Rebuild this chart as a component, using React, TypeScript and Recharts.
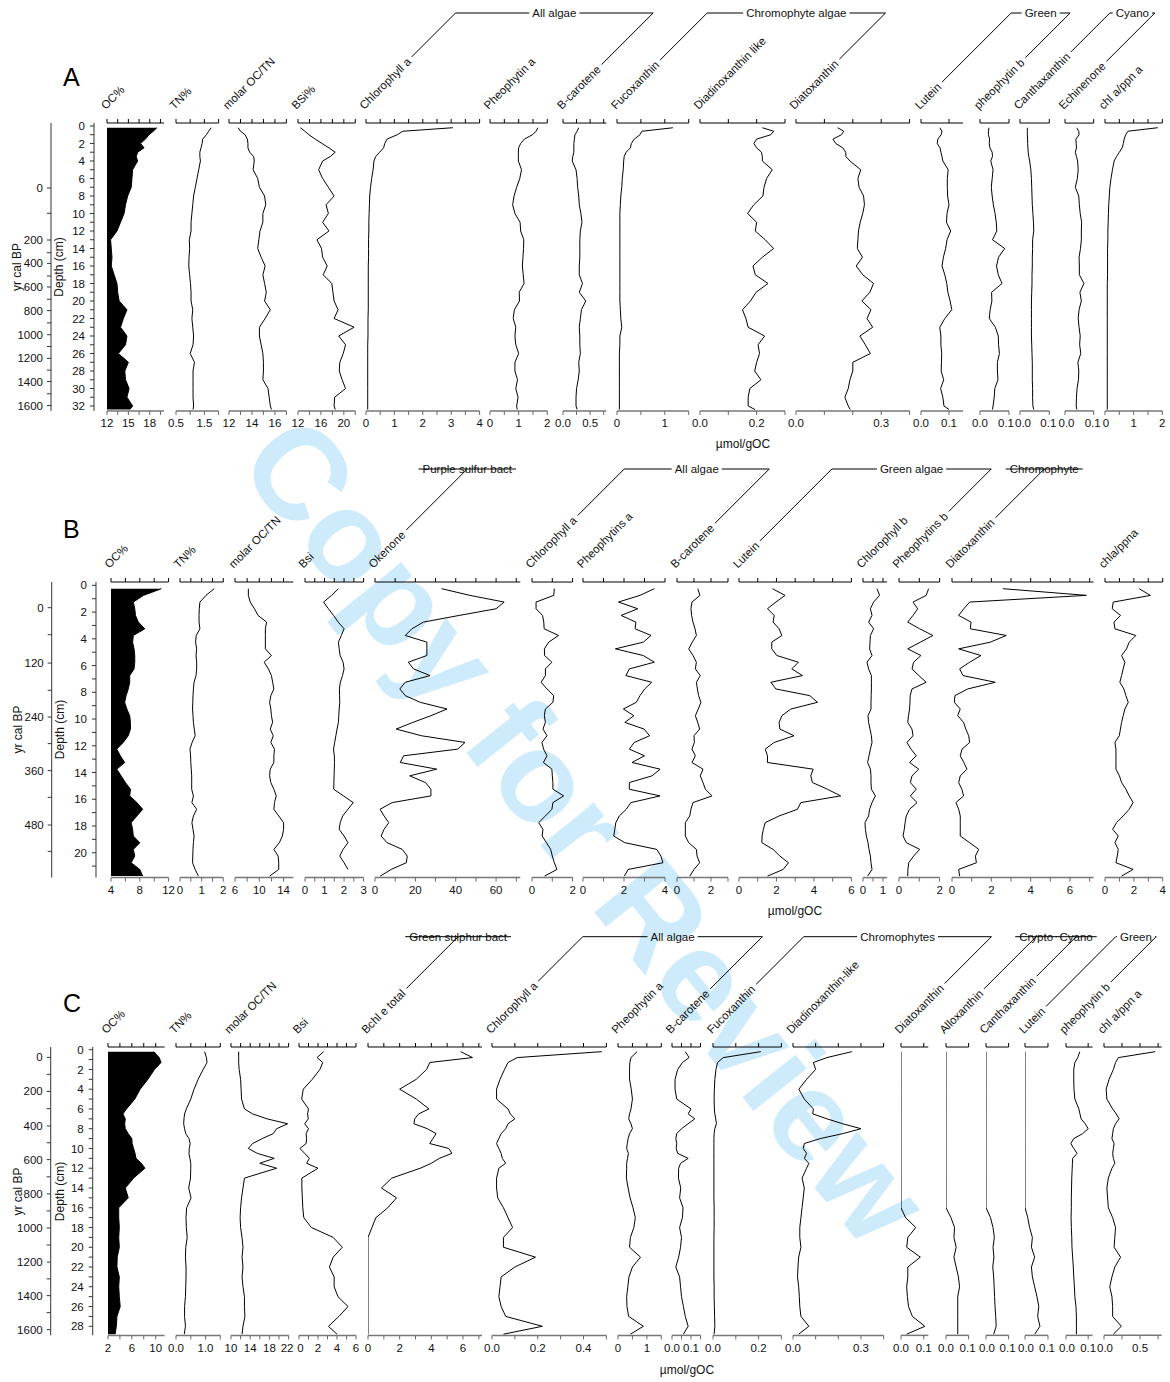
import React from 'react';
import { ComposedChart, Line, Area, XAxis, YAxis } from 'recharts';

const FONT = '"Liberation Sans", Arial, Helvetica, sans-serif';
const FS = 11.5;

// ---------------- Panel A ----------------
const depthA = [0.2, 0.6, 1, 1.5, 2, 2.5, 3, 3.5, 4, 5, 6, 7, 8, 9, 10, 11, 12, 13, 14, 15, 16, 17, 18, 19, 20, 21, 22, 23, 24, 25, 26, 27, 28, 29, 30, 31, 32, 32.4];
const ocA = [19.0, 18.5, 17.9, 17.4, 16.7, 17.2, 16.3, 16.1, 16.3, 15.6, 15.5, 15.4, 14.9, 14.6, 14.4, 13.9, 13.4, 12.5, 12.6, 12.7, 12.6, 13.0, 13.4, 13.5, 13.7, 14.8, 14.3, 13.9, 14.8, 14.6, 13.6, 15.0, 14.5, 14.6, 15.1, 14.8, 15.6, 15.2];
const tnA = [1.74, 1.65, 1.57, 1.44, 1.42, 1.38, 1.34, 1.34, 1.36, 1.30, 1.24, 1.18, 1.12, 1.09, 1.06, 1.03, 1.03, 0.97, 0.98, 0.96, 0.95, 0.98, 1.01, 1.03, 1.03, 1.09, 1.06, 1.09, 1.12, 1.10, 1.00, 1.15, 1.10, 1.10, 1.10, 1.10, 1.12, 1.10];
const molA = [12.8, 13.0, 13.4, 13.6, 13.65, 13.65, 13.8, 14.15, 14.2, 14.1, 14.5, 14.65, 15.1, 15.2, 14.95, 14.95, 14.7, 14.6, 14.5, 14.8, 15.15, 14.95, 15.1, 15.25, 15.1, 15.6, 15.15, 14.65, 14.65, 14.8, 14.95, 15.0, 15.0, 14.95, 15.4, 15.5, 15.6, 15.7];
const bsiA = [12.4, 13.2, 13.9, 15.0, 16.2, 17.4, 18.5, 17.6, 16.3, 15.6, 16.3, 17.3, 18.3, 16.9, 17.3, 16.3, 17.4, 15.3, 16.1, 16.3, 17.1, 16.4, 17.9, 18.1, 18.3, 19.0, 18.3, 21.8, 19.1, 20.3, 19.9, 19.3, 19.2, 19.7, 20.3, 18.4, 18.3, 18.5];
const chlaA = [3.06, 1.3, 1.1, 0.74, 0.66, 0.62, 0.48, 0.34, 0.28, 0.25, 0.2, 0.16, 0.13, 0.12, 0.11, 0.1, 0.1, 0.09, 0.09, 0.09, 0.08, 0.08, 0.08, 0.08, 0.08, 0.08, 0.07, 0.07, 0.07, 0.06, 0.06, 0.06, 0.06, 0.06, 0.06, 0.06, 0.06, 0.06];
const pheoA = [1.67, 1.61, 1.48, 1.2, 1.07, 1.0, 0.99, 0.99, 0.99, 1.1, 1.04, 0.93, 0.84, 0.79, 0.87, 1.05, 1.07, 1.18, 1.17, 1.15, 1.13, 1.16, 1.19, 1.02, 1.03, 0.85, 0.81, 0.9, 0.87, 0.9, 1.0, 0.87, 0.87, 0.96, 0.9, 0.98, 0.93, 0.95];
const bcarA = [0.29, 0.26, 0.22, 0.21, 0.2, 0.2, 0.2, 0.18, 0.17, 0.24, 0.26, 0.27, 0.29, 0.3, 0.33, 0.35, 0.32, 0.31, 0.31, 0.31, 0.3, 0.3, 0.36, 0.3, 0.42, 0.34, 0.32, 0.3, 0.31, 0.31, 0.32, 0.29, 0.3, 0.28, 0.25, 0.24, 0.24, 0.26];
const fucoA = [1.17, 0.52, 0.48, 0.36, 0.3, 0.28, 0.19, 0.15, 0.14, 0.13, 0.11, 0.1, 0.08, 0.07, 0.06, 0.06, 0.06, 0.06, 0.06, 0.06, 0.06, 0.06, 0.06, 0.06, 0.06, 0.07, 0.08, 0.1, 0.06, 0.06, 0.05, 0.05, 0.05, 0.05, 0.05, 0.05, 0.05, 0.05];
const diadA = [0.22, 0.26, 0.25, 0.2, 0.19, 0.2, 0.217, 0.22, 0.22, 0.255, 0.235, 0.226, 0.222, 0.19, 0.168, 0.2, 0.195, 0.23, 0.26, 0.22, 0.187, 0.195, 0.24, 0.198, 0.178, 0.15, 0.162, 0.17, 0.228, 0.205, 0.21, 0.2, 0.193, 0.215, 0.176, 0.17, 0.17, 0.194];
const diatA = [0.147, 0.168, 0.16, 0.13, 0.14, 0.165, 0.175, 0.176, 0.19, 0.228, 0.218, 0.222, 0.238, 0.241, 0.235, 0.226, 0.22, 0.218, 0.216, 0.234, 0.212, 0.235, 0.273, 0.26, 0.232, 0.264, 0.25, 0.27, 0.225, 0.244, 0.262, 0.2, 0.2, 0.19, 0.184, 0.172, 0.184, 0.191];
const lutA = [0.067, 0.075, 0.072, 0.06, 0.058, 0.068, 0.071, 0.075, 0.078, 0.097, 0.094, 0.094, 0.095, 0.1, 0.093, 0.091, 0.106, 0.093, 0.088, 0.08, 0.075, 0.085, 0.092, 0.096, 0.104, 0.11, 0.085, 0.067, 0.071, 0.071, 0.074, 0.073, 0.072, 0.081, 0.07, 0.078, 0.082, 0.1];
const phbA = [0.031, 0.029, 0.029, 0.033, 0.032, 0.034, 0.042, 0.043, 0.037, 0.045, 0.042, 0.039, 0.042, 0.046, 0.052, 0.056, 0.058, 0.043, 0.085, 0.064, 0.057, 0.063, 0.076, 0.04, 0.041, 0.035, 0.032, 0.053, 0.063, 0.064, 0.067, 0.06, 0.06, 0.062, 0.051, 0.049, 0.045, 0.043];
const canA = [0.025, 0.025, 0.025, 0.026, 0.026, 0.027, 0.028, 0.03, 0.033, 0.037, 0.039, 0.04, 0.041, 0.042, 0.044, 0.046, 0.047, 0.043, 0.043, 0.042, 0.042, 0.041, 0.041, 0.04, 0.039, 0.039, 0.039, 0.039, 0.039, 0.04, 0.041, 0.042, 0.042, 0.042, 0.043, 0.043, 0.044, 0.047];
const echA = [0.041, 0.048, 0.049, 0.038, 0.039, 0.04, 0.036, 0.04, 0.044, 0.046, 0.043, 0.036, 0.048, 0.05, 0.053, 0.058, 0.057, 0.057, 0.054, 0.049, 0.05, 0.05, 0.066, 0.052, 0.057, 0.049, 0.046, 0.049, 0.053, 0.051, 0.055, 0.045, 0.048, 0.047, 0.042, 0.04, 0.039, 0.041];
const chlppnA = [1.84, 0.8, 0.72, 0.67, 0.64, 0.6, 0.5, 0.4, 0.32, 0.26, 0.21, 0.17, 0.15, 0.13, 0.12, 0.11, 0.1, 0.1, 0.09, 0.09, 0.09, 0.09, 0.08, 0.08, 0.08, 0.08, 0.08, 0.08, 0.08, 0.08, 0.08, 0.08, 0.08, 0.08, 0.08, 0.08, 0.08, 0.08];
const depthTicksA = [0, 1, 2, 3, 4, 5, 6, 7, 8, 9, 10, 11, 12, 13, 14, 15, 16, 17, 18, 19, 20, 21, 22, 23, 24, 25, 26, 27, 28, 29, 30, 31, 32];
const depthLabelsA = [0, 2, 4, 6, 8, 10, 12, 14, 16, 18, 20, 22, 24, 26, 28, 30, 32];
const ageLabelsA = [0, 200, 400, 600, 800, 1000, 1200, 1400, 1600];
const ageDepthsA = [7.09, 13.03, 15.7, 18.4, 21.1, 23.85, 26.55, 29.2, 31.95];
const ageMinorA = [9.98, 14.48, 17.14, 19.8, 22.5, 25.2, 27.9, 30.6];

// ---------------- Panel B ----------------
const depthB = [0.25, 0.75, 1.25, 1.75, 2.25, 2.75, 3.25, 3.75, 4.25, 4.75, 5.25, 5.75, 6.25, 6.75, 7.25, 7.75, 8.25, 8.75, 9.25, 9.75, 10.25, 10.75, 11.25, 11.75, 12.25, 12.75, 13.25, 13.75, 14.25, 14.75, 15.25, 15.75, 16.25, 16.75, 17.25, 17.75, 18.25, 18.75, 19.25, 19.75, 20.25, 20.75, 21.25, 21.75];
const ocB = [11.0, 8.5, 7.1, 7.3, 7.4, 7.8, 8.7, 7.1, 7.0, 7.2, 7.3, 7.3, 7.2, 6.6, 6.6, 6.4, 6.1, 5.9, 6.2, 6.6, 6.7, 6.7, 6.4, 5.7, 4.8, 5.3, 5.9, 4.8, 5.4, 6.0, 6.7, 6.6, 7.6, 8.4, 7.6, 6.8, 7.0, 7.1, 8.0, 7.1, 7.3, 6.8, 8.0, 8.4];
const tnB = [1.58, 1.2, 0.92, 0.89, 0.88, 0.88, 0.92, 0.75, 0.72, 0.77, 0.74, 0.77, 0.77, 0.74, 0.65, 0.62, 0.6, 0.59, 0.58, 0.6, 0.62, 0.66, 0.7, 0.56, 0.46, 0.49, 0.5, 0.52, 0.54, 0.54, 0.54, 0.62, 0.55, 0.77, 0.62, 0.55, 0.6, 0.65, 0.62, 0.6, 0.59, 0.58, 0.7, 0.85];
const molB = [8.2, 8.2, 8.5, 9.2, 9.8, 11.2, 11.0, 11.0, 11.0, 11.0, 12.0, 10.8, 11.5, 12.0, 12.2, 12.4, 11.9, 11.7, 11.9, 12.0, 12.2, 11.8, 12.3, 11.9, 12.5, 12.4, 12.4, 11.8, 11.7, 11.9, 12.4, 12.8, 12.5, 12.4, 13.2, 14.0, 14.0, 13.8, 13.3, 12.4, 13.1, 13.2, 13.2, 11.7];
const bsiB = [1.71, 1.36, 0.95, 1.2, 1.46, 1.7, 2.0, 1.86, 1.71, 1.75, 1.8, 1.95, 2.0, 1.92, 1.81, 1.76, 1.77, 1.78, 1.75, 1.73, 1.71, 1.64, 1.58, 1.52, 1.46, 1.5, 1.51, 1.5, 1.49, 1.48, 1.47, 1.97, 2.47, 2.2, 1.93, 1.8, 1.75, 2.0, 2.2, 1.95, 1.78, 2.0, 2.2, null];
const okB = [33, 47, 64, 60, 41.7, 24, 18.3, 15, 25.7, 25.7, 25.7, 16.5, 19.1, 27.3, 15, 12.3, 15, 22.4, 35.7, 27.7, 18.8, 10.5, 23, 44.6, 41, 14.2, 12.5, 30.6, 17.2, 25, 27.7, 27.7, 8.5, 2.5, 4.5, 6.8, 4.5, 3, 6, 13.5, 16, 15.5, 8, 2.6];
const chlaB = [1.1, 1.07, 0.2, 0.2, 0.52, 0.58, 0.6, 1.31, 0.82, 0.61, 0.62, 0.98, 0.66, 0.66, 0.45, 0.74, 1.07, 1.03, 0.66, 0.61, 0.66, 0.54, 0.74, 0.49, 0.57, 0.74, 0.56, 0.98, 1.0, 1.03, 1.03, 1.56, 1.03, 0.98, 0.66, 0.33, 0.54, 0.5, 0.71, 0.92, 1.0, 1.1, 1.23, 0.62];
const pheoB = [3.48, 2.78, 1.73, 2.67, 1.86, 2.58, 2.54, 3.32, 2.94, 1.58, 2.94, 3.48, 2.26, 2.09, 3.35, 3.01, 2.78, 2.6, 1.97, 2.48, 2.04, 2.98, 3.25, 2.5, 2.26, 3.0, 2.39, 3.76, 3.37, 2.26, 2.26, 3.76, 2.34, 2.11, 1.77, 1.6, 1.55, 1.5, 2.04, 3.6, 3.8, 3.9, 2.2, 2.02];
const bcarB = [1.22, 1.35, 0.88, 0.82, 0.86, 0.94, 1.06, 1.14, 0.9, 0.69, 0.94, 1.14, 1.08, 1.37, 1.14, 1.2, 1.27, 1.41, 1.25, 1.08, 1.22, 1.33, 1.0, 1.02, 0.88, 1.08, 0.88, 1.53, 1.37, 1.53, 1.67, 2.06, 0.94, 0.82, 0.75, 0.49, 0.49, 0.49, 0.69, 1.14, 1.18, 1.33, 1.0, 0.75];
const lutB = [1.79, 2.46, 1.97, 1.52, 1.88, 1.82, 2.14, 2.29, 1.75, 1.75, 2.02, 3.17, 2.82, 3.39, 1.7, 1.97, 3.78, 4.19, 2.77, 2.29, 2.14, 2.18, 2.94, 1.88, 1.4, 1.52, 1.52, 3.96, 3.83, 3.92, 4.72, 5.43, 3.3, 3.12, 2.14, 1.4, 1.3, 1.23, 1.22, 1.82, 2.18, 2.64, 2.36, 1.52];
const chlbB = [0.7, 0.83, 0.53, 0.37, 0.45, 0.28, 0.53, 0.37, 0.35, 0.33, 0.45, 0.2, 0.28, 0.42, 0.42, 0.42, 0.41, 0.4, 0.4, 0.25, 0.28, 0.35, 0.42, 0.45, 0.37, 0.3, 0.23, 0.37, 0.4, 0.4, 0.42, 0.62, 0.45, 0.33, 0.28, 0.1, 0.12, 0.17, 0.25, 0.3, 0.37, 0.4, 0.45, 0.23];
const phbB = [1.46, 1.34, 0.69, 0.92, 0.69, 0.43, 1.02, 1.67, 1.05, 0.43, 1.08, 0.72, 0.64, 0.98, 1.34, 0.64, 0.55, 0.54, 0.52, 0.47, 0.43, 0.64, 0.69, 0.39, 0.59, 0.85, 0.52, 0.97, 0.64, 0.56, 0.85, 0.56, 0.89, 0.52, 0.36, 0.3, 0.26, 0.2, 0.36, 1.02, 0.72, 0.48, 0.44, 0.43];
const diatB = [2.59, 6.83, 0.9, 0.6, 0.34, 0.97, 0.93, 2.76, 1.95, 0.34, 1.47, 0.9, 0.39, 0.56, 2.2, 0.8, 0.15, 0.12, 0.42, 0.29, 0.59, 0.7, 0.85, 0.9, 0.51, 0.42, 0.6, 0.76, 0.42, 0.34, 0.5, 0.59, 0.2, 0.34, 0.42, 0.42, 0.42, 0.42, 0.9, 1.36, 1.19, 1.24, 0.34, 0.39];
const chlppnB = [2.37, 3.15, 0.57, 0.5, 1.08, 0.62, 0.69, 2.14, 1.68, 1.49, 1.15, 1.38, 1.26, 1.15, 1.03, 1.31, 1.45, 1.61, 1.38, 1.26, 1.15, 1.07, 0.99, 0.69, 0.76, 0.76, 0.76, 0.76, 1.0, 1.15, 1.45, 1.68, 1.95, 1.68, 1.26, 0.8, 0.53, 0.92, 0.69, 0.92, 0.85, 0.76, 1.95, 1.15];
const depthTicksB = [0, 1, 2, 3, 4, 5, 6, 7, 8, 9, 10, 11, 12, 13, 14, 15, 16, 17, 18, 19, 20, 21];
const depthLabelsB = [0, 2, 4, 6, 8, 10, 12, 14, 16, 18, 20];
const ageLabelsB = [0, 120, 240, 360, 480];
const ageDepthsB = [1.67, 5.81, 9.85, 13.86, 17.93];
const ageMinorB = [3.69, 7.85, 11.84, 15.86, 19.9];

// ---------------- Panel C ----------------
const depthC = [0.2, 0.8, 1.3, 2, 3, 4, 5, 6, 6.5, 7, 7.5, 8, 8.5, 9, 9.5, 10, 10.5, 11, 11.5, 12, 13, 14, 15, 16, 17, 18, 19, 20, 21, 22, 23, 24, 25, 26, 27, 28, 28.8];
const ocC = [9.7, 10.6, 10.9, 9.8, 8.7, 7.4, 6.5, 5.1, 4.5, 4.9, 4.8, 4.9, 5.4, 6.0, 6.05, 6.3, 6.55, 6.7, 7.6, 8.2, 6.3, 4.9, 5.4, 3.8, 3.8, 3.9, 3.8, 3.9, 3.55, 3.5, 3.9, 3.8, 3.9, 4.05, 3.5, 3.4, 3.2];
const tnC = [0.97, 1.03, 1.05, 0.92, 0.75, 0.61, 0.5, 0.35, 0.29, 0.27, 0.26, 0.29, 0.33, 0.44, 0.48, 0.45, 0.44, 0.47, 0.5, 0.5, 0.49, 0.43, 0.51, 0.36, 0.34, 0.35, 0.38, 0.33, 0.32, 0.34, 0.34, 0.33, 0.32, 0.29, 0.29, 0.32, 0.28];
const molC = [11.6, 11.6, 11.6, 11.7, 12.0, 12.1, 12.2, 12.8, 14.5, 17.5, 21.8, 19.5, 18.8, 16.5, 14.5, 13.6, 15.5, 19.0, 16.0, 19.5, 12.8, 12.5, 12.2, 12.0, 11.9, 12.0, 12.3, 12.5, 12.3, 12.5, 12.3, 12.5, 12.8, 12.8, 12.9, 12.5, 12.3];
const bsiC = [2.6, 1.9, 2.5, 2.2, 1.4, 0.45, 0.28, 1.0, 0.9, 0.98, 0.6, 1.0, 0.75, 0.8, 0.75, 0.1, 0.6, 1.1, 0.8, 2.0, 0.3, 0.3, 0.35, 0.4, 0.5, 1.3, 3.6, 4.56, 3.6, 3.2, 3.7, 3.7, 4.1, 5.16, 4.2, 3.1, 4.0];
const bchlC = [5.85, 6.6, 3.9, 3.7, 3.05, 2.0, 3.05, 3.85, 3.2, 2.95, 2.9, 3.75, 4.3, 4.1, 3.9, 5.1, 5.3, 4.5, 4.0, 3.3, 1.5, 0.85, 1.8, 1.25, 0.5, 0.25, 0, 0, 0, 0, 0, 0, 0, 0, 0, 0, 0];
const chlaC = [0.48, 0.11, 0.07, 0.055, 0.035, 0.02, 0.02, 0.07, 0.08, 0.1, 0.07, 0.06, 0.04, 0.03, 0.02, 0.03, 0.04, 0.045, 0.06, 0.03, 0.02, 0.02, 0.025, 0.05, 0.07, 0.09, 0.05, 0.05, 0.19, 0.1, 0.04, 0.035, 0.03, 0.04, 0.06, 0.22, 0.05];
const pheoC = [0.66, 0.45, 0.41, 0.4, 0.4, 0.46, 0.5, 0.45, 0.4, 0.37, 0.45, 0.5, 0.4, 0.35, 0.32, 0.3, 0.36, 0.33, 0.3, 0.3, 0.29, 0.35, 0.42, 0.52, 0.6, 0.55, 0.43, 0.4, 0.78, 0.5, 0.38, 0.34, 0.3, 0.31, 0.37, 0.88, 0.43];
const bcarC = [0.07, 0.09, 0.055, 0.03, 0.016, 0.016, 0.025, 0.1, 0.085, 0.12, 0.085, 0.05, 0.025, 0.02, 0.025, 0.022, 0.03, 0.085, 0.045, 0.035, 0.034, 0.046, 0.04, 0.058, 0.055, 0.04, 0.05, 0.045, 0.035, 0.02, 0.04, 0.045, 0.05, 0.06, 0.07, 0.085, 0.06];
const fucoC = [0.21, 0.045, 0.02, 0.013, 0.008, 0.006, 0.005, 0.006, 0.008, 0.012, 0.015, 0.008, 0.005, 0.004, 0.004, 0.004, 0.004, 0.004, 0.004, 0.004, 0.004, 0.004, 0.004, 0.005, 0.005, 0.005, 0.004, 0.004, 0.004, 0.004, 0.004, 0.005, 0.005, 0.006, 0.007, 0.008, 0.005];
const diadC = [0.26, 0.15, 0.09, 0.1, 0.06, 0.026, 0.05, 0.09, 0.087, 0.15, 0.22, 0.3, 0.22, 0.12, 0.05, 0.045, 0.06, 0.05, 0.07, 0.06, 0.04, 0.05, 0.045, 0.04, 0.035, 0.03, 0.03, 0.035, 0.025, 0.022, 0.02, 0.025, 0.028, 0.03, 0.035, 0.07, 0.025];
const diatC = [0, 0, 0, 0, 0, 0, 0, 0, 0, 0, 0, 0, 0, 0, 0, 0, 0, 0, 0, 0, 0, 0, 0, 0, 0.02, 0.065, 0.03, 0.025, 0.085, 0.03, 0.03, 0.025, 0.028, 0.033, 0.05, 0.105, 0.025];
const alloC = [0, 0, 0, 0, 0, 0, 0, 0, 0, 0, 0, 0, 0, 0, 0, 0, 0, 0, 0, 0, 0, 0, 0, 0, 0.022, 0.038, 0.035, 0.045, 0.035, 0.045, 0.055, 0.06, 0.052, 0.052, 0.052, 0.052, 0.052];
const cantC = [0, 0, 0, 0, 0, 0, 0, 0, 0, 0, 0, 0, 0, 0, 0, 0, 0, 0, 0, 0, 0, 0, 0, 0, 0.02, 0.031, 0.037, 0.031, 0.035, 0.03, 0.034, 0.036, 0.038, 0.04, 0.043, 0.045, 0.034];
const lutC = [0, 0, 0, 0, 0, 0, 0, 0, 0, 0, 0, 0, 0, 0, 0, 0, 0, 0, 0, 0, 0, 0, 0, 0, 0.012, 0.02, 0.032, 0.028, 0.042, 0.028, 0.032, 0.042, 0.052, 0.06, 0.055, 0.065, 0.042];
const phbC = [0.062, 0.053, 0.04, 0.035, 0.035, 0.036, 0.04, 0.058, 0.063, 0.068, 0.087, 0.1, 0.075, 0.035, 0.022, 0.035, 0.05, 0.03, 0.029, 0.028, 0.026, 0.025, 0.024, 0.024, 0.023, 0.024, 0.026, 0.027, 0.03, 0.033, 0.035, 0.038, 0.04, 0.045, 0.047, 0.047, 0.047];
const chlppnC = [0.71, 0.2, 0.16, 0.13, 0.07, 0.03, 0.04, 0.12, 0.17, 0.21, 0.16, 0.13, 0.12, 0.11, 0.14, 0.13, 0.12, 0.13, 0.15, 0.11, 0.06, 0.04, 0.05, 0.06, 0.12, 0.16, 0.15, 0.14, 0.23, 0.15, 0.11, 0.08, 0.11, 0.12, 0.12, 0.24, 0.13];
const depthTicksC = [0, 1, 2, 3, 4, 5, 6, 7, 8, 9, 10, 11, 12, 13, 14, 15, 16, 17, 18, 19, 20, 21, 22, 23, 24, 25, 26, 27, 28];
const depthLabelsC = [0, 2, 4, 6, 8, 10, 12, 14, 16, 18, 20, 22, 24, 26, 28];
const ageLabelsC = [0, 200, 400, 600, 800, 1000, 1200, 1400, 1600];
const ageDepthsC = [0.78, 4.22, 7.72, 11.13, 14.6, 18.05, 21.5, 24.9, 28.34];
const ageMinorC = [2.5, 5.97, 9.42, 12.87, 16.32, 19.77, 23.2, 26.62];

type Sub = { label: string; values: (number | null)[]; left: number; right: number; domain: [number, number]; ticks: number[]; labels: number[]; dec: number; fill?: boolean; shift?: number[] };
type Group = { text: string; from: number; to: number };

const panels: any[] = [
  {
    letter: 'A', letterY: 86, axisTop: 123, axisBottom: 411, depthDomain: [-0.34, 32.57],
    depths: depthA, depthTicks: depthTicksA, depthLabels: depthLabelsA,
    ageDepths: ageDepthsA, ageLabels: ageLabelsA, ageMinor: ageMinorA,
    depthX: 94, ageX: 51, yrX: 17, depX: 59, groupY: 13, unitX: 743, unitY: 448,
    subs: [
      { label: 'OC%', values: ocA, left: 107.3, right: 164.3, domain: [12, 20], ticks: [12, 13.5, 15, 16.5, 18, 19.5], labels: [12, 15, 18], dec: 0, fill: true },
      { label: 'TN%', values: tnA, left: 175.7, right: 218.3, domain: [0.5, 2], ticks: [0.5, 1, 1.5, 2], labels: [0.5, 1.5], dec: 1 },
      { label: 'molar OC/TN', values: molA, left: 229.3, right: 286.7, domain: [12, 17], ticks: [12, 13, 14, 15, 16, 17], labels: [12, 14, 16], dec: 0 },
      { label: 'BSi%', values: bsiA, left: 297.7, right: 355, domain: [12, 22], ticks: [12, 14, 16, 18, 20, 22], labels: [12, 16, 20], dec: 0 },
      { label: 'Chlorophyll a', values: chlaA, left: 365.7, right: 479.3, domain: [0, 4], ticks: [0, 0.5, 1, 1.5, 2, 2.5, 3, 3.5, 4], labels: [0, 1, 2, 3, 4], dec: 0 },
      { label: 'Pheophytin a', values: pheoA, left: 490, right: 547.3, domain: [0, 2], ticks: [0, 0.5, 1, 1.5, 2], labels: [0, 1, 2], dec: 0 },
      { label: 'B-carotene', values: bcarA, left: 563.3, right: 606.7, domain: [0, 0.8], ticks: [0, 0.25, 0.5, 0.75], labels: [0, 0.5], dec: 1 },
      { label: 'Fucoxanthin', values: fucoA, left: 617.3, right: 689, domain: [0, 1.5], ticks: [0, 0.5, 1, 1.5], labels: [0, 1], dec: 0 },
      { label: 'Diadinoxanthin like', values: diadA, left: 700, right: 785, domain: [0, 0.3], ticks: [0, 0.1, 0.2, 0.3], labels: [0, 0.2], dec: 1 },
      { label: 'Diatoxanthin', values: diatA, left: 795.7, right: 909.3, domain: [0, 0.4], ticks: [0, 0.1, 0.2, 0.3, 0.4], labels: [0, 0.3], dec: 1 },
      { label: 'Lutein', values: lutA, left: 921.3, right: 963.3, domain: [0, 0.15], ticks: [0, 0.1], labels: [0, 0.1], dec: 1 },
      { label: 'pheophytin b', values: phbA, left: 980.3, right: 1009.3, domain: [0, 0.1], ticks: [0, 0.1], labels: [0, 0.1], dec: 1, shift: [0, -3] },
      { label: 'Canthaxanthin', values: canA, left: 1020, right: 1049.3, domain: [0, 0.1], ticks: [0, 0.1], labels: [0, 0.1], dec: 1, shift: [3, -1] },
      { label: 'Echinenone', values: echA, left: 1065, right: 1093.7, domain: [0, 0.1], ticks: [0, 0.1], labels: [0, 0.1], dec: 1, shift: [1.5, -1] },
      { label: 'chl a/ppn a', values: chlppnA, left: 1105, right: 1162.3, domain: [0, 2], ticks: [0, 0.5, 1, 1.5, 2], labels: [0, 1, 2], dec: 0, shift: [1, 0, 0] },
    ] as Sub[],
    groups: [
      { text: 'All algae', from: 4, to: 6 },
      { text: 'Chromophyte algae', from: 7, to: 9 },
      { text: 'Green', from: 10, to: 11 },
      { text: 'Cyano', from: 12, to: 13 },
    ] as Group[],
  },
  {
    letter: 'B', letterY: 538, axisTop: 581.7, axisBottom: 877.3, depthDomain: [-0.25, 21.86],
    depths: depthB, depthTicks: depthTicksB, depthLabels: depthLabelsB,
    ageDepths: ageDepthsB, ageLabels: ageLabelsB, ageMinor: ageMinorB,
    depthX: 96, ageX: 51.7, yrX: 18, depX: 60, groupY: 469, unitX: 795, unitY: 915,
    subs: [
      { label: 'OC%', values: ocB, left: 110.7, right: 168.3, domain: [4, 12], ticks: [4, 6, 8, 10, 12], labels: [4, 8, 12], dec: 0, fill: true },
      { label: 'TN%', values: tnB, left: 180, right: 223.3, domain: [0, 2], ticks: [0, 0.5, 1, 1.5, 2], labels: [0, 1, 2], dec: 0 },
      { label: 'molar OC/TN', values: molB, left: 235, right: 293.3, domain: [6, 15.6], ticks: [6, 8, 10, 12, 14], labels: [6, 10, 14], dec: 0 },
      { label: 'Bsi', values: bsiB, left: 304.7, right: 363.3, domain: [0, 3], ticks: [0, 0.5, 1, 1.5, 2, 2.5, 3], labels: [0, 1, 2, 3], dec: 0 },
      { label: 'Okenone', values: okB, left: 374.7, right: 520, domain: [0, 72], ticks: [0, 10, 20, 30, 40, 50, 60, 70], labels: [0, 20, 40, 60], dec: 0 },
      { label: 'Chlorophyll a', values: chlaB, left: 531.7, right: 572.3, domain: [0, 2], ticks: [0, 1, 2], labels: [0, 2], dec: 0 },
      { label: 'Pheophytins a', values: pheoB, left: 583.3, right: 665.3, domain: [0, 4], ticks: [0, 1, 2, 3, 4], labels: [0, 2, 4], dec: 0 },
      { label: 'B-carotene', values: bcarB, left: 676.7, right: 727.7, domain: [0, 3], ticks: [0, 1, 2, 3], labels: [0, 2], dec: 0 },
      { label: 'Lutein', values: lutB, left: 739.3, right: 851.7, domain: [0, 6], ticks: [0, 1, 2, 3, 4, 5, 6], labels: [0, 2, 4, 6], dec: 0 },
      { label: 'Chlorophyll b', values: chlbB, left: 862.7, right: 886.7, domain: [0, 1.2], ticks: [0, 0.5, 1], labels: [0, 1], dec: 0 },
      { label: 'Pheophytins b', values: phbB, left: 898.7, right: 939.3, domain: [0, 2], ticks: [0, 1, 2], labels: [0, 2], dec: 0 },
      { label: 'Diatoxanthin', values: diatB, left: 951.7, right: 1093.3, domain: [0, 7.2], ticks: [0, 1, 2, 3, 4, 5, 6, 7], labels: [0, 2, 4, 6], dec: 0 },
      { label: 'chla/ppna', values: chlppnB, left: 1105, right: 1162.7, domain: [0, 4], ticks: [0, 1, 2, 3, 4], labels: [0, 2, 4], dec: 0 },
    ] as Sub[],
    groups: [
      { text: 'Purple sulfur bact', from: 4, to: 4 },
      { text: 'All algae', from: 5, to: 7 },
      { text: 'Green algae', from: 8, to: 10 },
      { text: 'Chromophyte', from: 11, to: 11 },
    ] as Group[],
  },
  {
    letter: 'C', letterY: 1012, axisTop: 1047.3, axisBottom: 1335.7, depthDomain: [-0.27, 28.92],
    depths: depthC, depthTicks: depthTicksC, depthLabels: depthLabelsC,
    ageDepths: ageDepthsC, ageLabels: ageLabelsC, ageMinor: ageMinorC,
    depthX: 92.7, ageX: 50.7, yrX: 18, depX: 60, groupY: 936.7, unitX: 687, unitY: 1374,
    subs: [
      { label: 'OC%', values: ocC, left: 107.7, right: 164.3, domain: [2, 11.5], ticks: [2, 4, 6, 8, 10], labels: [2, 6, 10], dec: 0, fill: true },
      { label: 'TN%', values: tnC, left: 175.7, right: 220, domain: [0, 1.5], ticks: [0, 0.5, 1, 1.5], labels: [0, 1], dec: 1 },
      { label: 'molar OC/TN', values: molC, left: 230.7, right: 288.3, domain: [10, 22], ticks: [10, 12, 14, 16, 18, 20, 22], labels: [10, 14, 18, 22], dec: 0, shift: [0, 0, 0, -1.5] },
      { label: 'Bsi', values: bsiC, left: 299, right: 356, domain: [0, 6], ticks: [0, 1, 2, 3, 4, 5, 6], labels: [0, 2, 4, 6], dec: 0, shift: [1.5, 0, 0, 0] },
      { label: 'Bchl e total', values: bchlC, left: 367.7, right: 481.7, domain: [0, 7.2], ticks: [0, 1, 2, 3, 4, 5, 6, 7], labels: [0, 2, 4, 6], dec: 0 },
      { label: 'Chlorophyll a', values: chlaC, left: 492.3, right: 606.7, domain: [0, 0.5], ticks: [0, 0.1, 0.2, 0.3, 0.4, 0.5], labels: [0, 0.2, 0.4], dec: 1 },
      { label: 'Pheophytin a', values: pheoC, left: 617.7, right: 661, domain: [0, 1.5], ticks: [0, 0.5, 1, 1.5], labels: [0, 1], dec: 0 },
      { label: 'B-carotene', values: bcarC, left: 672, right: 700.5, domain: [0, 0.15], ticks: [0, 0.05, 0.1, 0.15], labels: [0, 0.1], dec: 1 },
      { label: 'Fucoxanthin', values: fucoC, left: 713.3, right: 781.7, domain: [0, 0.3], ticks: [0, 0.1, 0.2, 0.3], labels: [0, 0.2], dec: 1 },
      { label: 'Diadinoxanthin-like', values: diadC, left: 792.7, right: 883.3, domain: [0, 0.4], ticks: [0, 0.1, 0.2, 0.3, 0.4], labels: [0, 0.3], dec: 1 },
      { label: 'Diatoxanthin', values: diatC, left: 901, right: 928.3, domain: [0, 0.12], ticks: [0, 0.1], labels: [0, 0.1], dec: 1 },
      { label: 'Alloxanthin', values: alloC, left: 945.7, right: 968.3, domain: [0, 0.1], ticks: [0, 0.1], labels: [0, 0.1], dec: 1, shift: [0, -1] },
      { label: 'Canthaxanthin', values: cantC, left: 985.7, right: 1008.3, domain: [0, 0.1], ticks: [0, 0.1], labels: [0, 0.1], dec: 1, shift: [1, -1] },
      { label: 'Lutein', values: lutC, left: 1025.3, right: 1048.3, domain: [0, 0.1], ticks: [0, 0.1], labels: [0, 0.1], dec: 1, shift: [1, -1] },
      { label: 'pheophytin b', values: phbC, left: 1065.7, right: 1092.3, domain: [0, 0.12], ticks: [0, 0.1], labels: [0, 0.1], dec: 1, shift: [1, 0] },
      { label: 'chl a/ppn a', values: chlppnC, left: 1104, right: 1161.7, domain: [0, 0.8], ticks: [0, 0.25, 0.5, 0.75], labels: [0, 0.5], dec: 1, shift: [1, 0] },
    ] as Sub[],
    groups: [
      { text: 'Green sulphur bact', from: 4, to: 4 },
      { text: 'All algae', from: 5, to: 7 },
      { text: 'Chromophytes', from: 8, to: 10 },
      { text: 'Crypto', from: 11, to: 11 },
      { text: 'Cyano', from: 12, to: 12 },
      { text: 'Green', from: 13, to: 14 },
    ] as Group[],
  },
];

panels.forEach((p) => {
  p.rows = p.depths.map((d: number, i: number) => {
    const r: any = { depth: d };
    p.subs.forEach((s: Sub, j: number) => { r['s' + j] = s.values[i]; });
    return r;
  });
});

const TICK = { fontSize: FS, fill: '#111', fontFamily: FONT };

let ctx: CanvasRenderingContext2D | null = null;
function textW(s: string, size = FS) {
  if (!ctx) ctx = document.createElement('canvas').getContext('2d');
  if (!ctx) return s.length * size * 0.5;
  ctx.font = `${size}px "Liberation Sans", Arial, sans-serif`;
  return ctx.measureText(s).width;
}

const near = (arr: number[], v: number) => arr.findIndex((a) => Math.abs(a - v) < 1e-6);

function makeBottomTick(s: Sub) {
  return (props: any) => {
    const v = props.payload ? props.payload.value : 0;
    const k = near(s.labels, v);
    if (k < 0) return <g />;
    const dx = s.shift && s.shift[k] ? s.shift[k] : 0;
    return (
      <text x={props.x + dx} y={props.y} dy="0.71em" textAnchor="middle" fontSize={FS} fill="#111" fontFamily={FONT}>
        {v.toFixed(s.dec)}
      </text>
    );
  };
}

function SubPlot({ p, s, i }: { p: any; s: Sub; i: number }) {
  const plotW = s.right - s.left;
  const plotH = p.axisBottom - p.axisTop;
  const height = 10 + plotH + 30;
  const key = 's' + i;
  return (
    <div style={{ position: 'absolute', left: s.left, top: p.axisTop - 10, width: plotW, height }}>
      <ComposedChart layout="vertical" width={plotW} height={height} data={p.rows} margin={{ top: 5, right: 0, bottom: 5, left: 0 }}>
        <XAxis xAxisId="t" orientation="top" type="number" domain={s.domain} ticks={s.ticks} interval={0} allowDataOverflow height={5} tickSize={4}
          tickFormatter={() => ''} axisLine={{ stroke: '#000' }} tickLine={{ stroke: '#000' }} />
        <XAxis xAxisId="b" orientation="bottom" type="number" domain={s.domain} ticks={s.ticks} interval={0} allowDataOverflow height={25} tickSize={4} tickMargin={4}
          tick={makeBottomTick(s)} axisLine={{ stroke: '#777', strokeWidth: 1.5 }} tickLine={{ stroke: '#666' }} />
        <YAxis yAxisId="p" type="number" dataKey="depth" domain={p.depthDomain} allowDataOverflow width={0}
          tick={false} tickLine={false} axisLine={{ stroke: '#000' }} />
        {s.fill ? (
          <Area xAxisId="b" yAxisId="p" dataKey={key} type="linear" stroke="#000" strokeWidth={1} fill="#000" fillOpacity={1}
            baseValue="dataMin" isAnimationActive={false} dot={false} activeDot={false} />
        ) : (
          <Line xAxisId="b" yAxisId="p" dataKey={key} type="linear" stroke="#000" strokeWidth={1} dot={false} activeDot={false}
            isAnimationActive={false} />
        )}
      </ComposedChart>
    </div>
  );
}

function SideAxis({ p, kind }: { p: any; kind: 'd' | 'a' }) {
  const isD = kind === 'd';
  const ax = isD ? p.depthX : p.ageX;
  const plotH = p.axisBottom - p.axisTop;
  const height = 10 + plotH + 30;
  const width = ax + 4;
  const ticks = isD ? p.depthTicks : [...p.ageDepths, ...p.ageMinor].sort((a: number, b: number) => a - b);
  const fmt = isD
    ? (v: number) => (near(p.depthLabels, v) >= 0 ? String(v) : '')
    : (v: number) => { const k = near(p.ageDepths, v); return k >= 0 ? String(p.ageLabels[k]) : ''; };
  return (
    <div style={{ position: 'absolute', left: 0, top: p.axisTop - 10, width, height }}>
      <ComposedChart layout="vertical" width={width} height={height} data={p.rows} margin={{ top: 10, right: 0, bottom: 30, left: 0 }}>
        <XAxis xAxisId="x" type="number" domain={[0, 1]} hide />
        <YAxis yAxisId="z" type="number" dataKey="depth" domain={p.depthDomain} allowDataOverflow width={ax}
          ticks={ticks} interval={0} tickSize={4} tickMargin={isD ? 5 : 4} tick={TICK} tickFormatter={fmt}
          axisLine={{ stroke: '#333' }} tickLine={{ stroke: '#333' }} />
      </ComposedChart>
    </div>
  );
}

const SQ = Math.SQRT1_2;

function Overlay() {
  const els: React.ReactNode[] = [];
  const tp = { fontFamily: FONT, fontSize: FS, fill: '#111' };
  panels.forEach((p, pi) => {
    const mid = (p.axisTop + p.axisBottom) / 2;
    els.push(<text key={`let${pi}`} x={63} y={p.letterY} fontFamily={FONT} fontSize={25} fill="#000">{p.letter}</text>);
    els.push(<text key={`yr${pi}`} x={p.yrX} y={mid} transform={`rotate(-90 ${p.yrX} ${mid})`} textAnchor="middle" dominantBaseline="central" {...tp} fontSize={12}>yr cal BP</text>);
    els.push(<text key={`dp${pi}`} x={p.depX} y={mid} transform={`rotate(-90 ${p.depX} ${mid})`} textAnchor="middle" dominantBaseline="central" {...tp} fontSize={12}>Depth (cm)</text>);
    els.push(<text key={`un${pi}`} x={p.unitX} y={p.unitY} textAnchor="middle" {...tp} fontSize={12}>µmol/gOC</text>);
    const ends: { x: number; y: number }[] = [];
    p.subs.forEach((s: Sub, i: number) => {
      const x0 = s.left - 1.5;
      const y0 = p.axisTop - 13;
      els.push(<text key={`lb${pi}-${i}`} x={x0} y={y0} transform={`rotate(-45 ${x0} ${y0})`} {...tp}>{s.label}</text>);
      const L = textW(s.label) + 4;
      ends.push({ x: x0 + L * SQ - 4 * SQ, y: y0 - L * SQ - 4 * SQ });
    });
    const gy = p.groupY;
    p.groups.forEach((g: Group, gi: number) => {
      const e1 = ends[g.from];
      const e2 = ends[g.to];
      const t1 = e1.x + (e1.y - gy);
      const t2 = e2.x + (e2.y - gy);
      const cx = (t1 + t2) / 2;
      const tw = textW(g.text);
      const k = `g${pi}-${gi}`;
      els.push(<text key={k + 't'} x={cx} y={gy + 4} textAnchor="middle" {...tp}>{g.text}</text>);
      els.push(<line key={k + 'a'} x1={e1.x} y1={e1.y} x2={t1} y2={gy} stroke="#000" strokeWidth={1} />);
      if (g.from === g.to) {
        els.push(<line key={k + 'h'} x1={cx - tw / 2 - 4} y1={gy} x2={cx + tw / 2 + 4} y2={gy} stroke="#000" strokeWidth={1} />);
      } else {
        els.push(<line key={k + 'b'} x1={e2.x} y1={e2.y} x2={t2} y2={gy} stroke="#000" strokeWidth={1} />);
        els.push(<line key={k + 'h1'} x1={t1} y1={gy} x2={cx - tw / 2 - 3} y2={gy} stroke="#000" strokeWidth={1} />);
        els.push(<line key={k + 'h2'} x1={cx + tw / 2 + 3} y1={gy} x2={t2} y2={gy} stroke="#000" strokeWidth={1} />);
      }
    });
  });
  return (
    <svg width={1170} height={1382} style={{ position: 'absolute', left: 0, top: 0, pointerEvents: 'none' }}>
      {els}
    </svg>
  );
}

export default function App() {
  return (
    <div style={{ position: 'absolute', left: 0, top: 0, width: 1170, height: 1382, background: '#fff', overflow: 'hidden', fontFamily: FONT }}>
      <style>{'.recharts-surface{overflow:visible}.recharts-wrapper{overflow:visible}'}</style>
      <svg width={1170} height={1382} style={{ position: 'absolute', left: 0, top: 0 }}>
        <text x={586} y={830} transform="rotate(51.3 586 830)" textAnchor="middle" dominantBaseline="central"
          fontFamily={FONT} fontWeight="bold" fontSize={129} fill="#cdebfa">Copy for Review</text>
      </svg>
      {panels.map((p, pi) => (
        <React.Fragment key={`ax${pi}`}>
          <SideAxis p={p} kind="a" />
          <SideAxis p={p} kind="d" />
        </React.Fragment>
      ))}
      {panels.map((p, pi) => p.subs.map((s: Sub, i: number) => <SubPlot key={`${pi}-${i}`} p={p} s={s} i={i} />))}
      <Overlay />
    </div>
  );
}
